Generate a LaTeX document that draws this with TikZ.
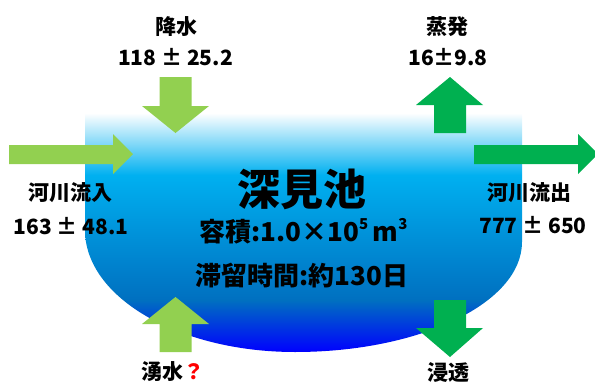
\documentclass[tikz,border=0pt]{standalone}
\usepackage{fontspec}
\setmainfont{Noto Sans CJK JP}
\definecolor{lgreen}{HTML}{92D050}
\definecolor{dgreen}{HTML}{00B050}
\definecolor{cyanb}{HTML}{00B0F0}
\definecolor{midb}{HTML}{0070C0}
\definecolor{qred}{HTML}{FF0000}
\pgfdeclareverticalshading{pond}{100bp}{color(0bp)=(blue); color(25bp)=(blue); color(35.9bp)=(midb); color(62bp)=(cyanb); color(75bp)=(white); color(100bp)=(white)}
\tikzset{
  inflow/.style={fill=lgreen},
  outflow/.style={fill=dgreen},
  lbl/.style={inner sep=0pt, font=\fontsize{21}{21}\selectfont\bfseries},
  title/.style={inner sep=0pt, font=\fontsize{43}{43}\selectfont\bfseries},
  info/.style={inner sep=0pt, font=\fontsize{26}{26}\selectfont\bfseries},
}
\begin{document}
\begin{tikzpicture}[x=1pt,y=-1pt]
\useasboundingbox (0,0) rectangle (595,386);
% pond
\shade[shading=pond] (85,113) -- (85,230)
  .. controls (85,297.4) and (179,352) .. (295,352)
  .. controls (420.4,352) and (522,302.8) .. (522,242)
  -- (522,113) -- cycle;
% precipitation (down)
\fill[inflow] (159.5,77) -- (191.5,77) -- (191.5,106) -- (209,106) -- (175.5,133) -- (142,106) -- (159.5,106) -- cycle;
% river inflow (right)
\fill[inflow] (9,145) -- (113,145) -- (113,134) -- (133,154) -- (113,174) -- (113,164) -- (9,164) -- cycle;
% spring (up)
\fill[inflow] (159.5,352) -- (191.5,352) -- (191.5,324) -- (209,324) -- (175.5,297) -- (142,324) -- (159.5,324) -- cycle;
% evaporation (up)
\fill[outflow] (434,133) -- (466,133) -- (466,105) -- (483,105) -- (450,77) -- (416,105) -- (434,105) -- cycle;
% river outflow (right)
\fill[outflow] (474,145) -- (578,145) -- (578,134) -- (598,154) -- (578,174) -- (578,164) -- (474,164) -- cycle;
% infiltration (down)
\fill[outflow] (434,300) -- (466,300) -- (466,328) -- (483,328) -- (450,357) -- (416,328) -- (434,328) -- cycle;
% labels
\node[lbl] (kousui) at (176,27) {降水};
\node[lbl] (kousuiv) at (175.5,57) {118 ± 25.2};
\node[lbl] (jouhatsu) at (447,27) {蒸発};
\node[lbl] (jouhatsuv) at (448,57) {16±9.8};
\node[lbl] (inflow) at (70,193) {河川流入};
\node[lbl] (inflowv) at (71,226) {163 ± 48.1};
\node[lbl] (outflow) at (529,193) {河川流出};
\node[lbl] (outflowv) at (533,225) {777 ± 650};
\node[lbl] (yusui) at (173,372) {湧水{\color{qred}？}};
\node[lbl] (shinto) at (448,373) {浸透};
% pond texts
\node[title] (name) at (301.5,189) {深見池};
\node[info] (vol) at (303.5,231) {容積:1.0×10\raisebox{0.45em}{\fontsize{15}{15}\selectfont 5}\,m\raisebox{0.45em}{\fontsize{15}{15}\selectfont 3}};
\node[info] (ret) at (302,276) {滞留時間:約130日};
\end{tikzpicture}
\end{document}
